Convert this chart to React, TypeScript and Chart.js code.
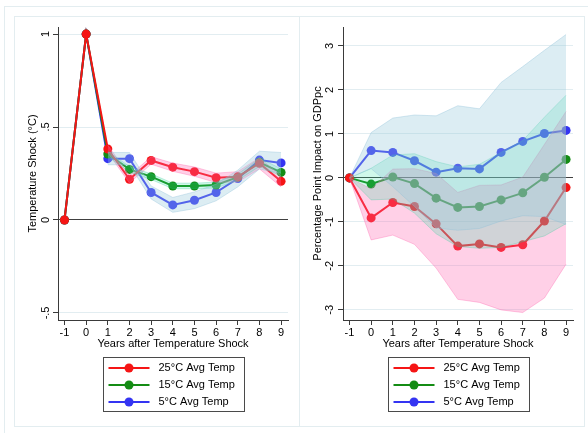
import React, { useEffect, useRef } from "react";
import { Chart, registerables } from "chart.js";

Chart.register(...registerables);

// ---------- data ----------
const years = [-1, 0, 1, 2, 3, 4, 5, 6, 7, 8, 9];
const bandYearsTemp = [1, 2, 3, 4, 5, 6, 7, 8, 9];
const seriesNames = ["25°C Avg Temp", "15°C Avg Temp", "5°C Avg Temp"];

// Left panel: temperature shock (°C)
const tempHot = [0, 1, 0.382, 0.219, 0.32, 0.284, 0.26, 0.227, 0.232, 0.305, 0.208];
const tempMid = [0, 1, 0.355, 0.272, 0.233, 0.183, 0.183, 0.188, 0.23, 0.31, 0.256];
const tempCold = [0, 1, 0.33, 0.33, 0.148, 0.081, 0.106, 0.148, 0.223, 0.322, 0.307];
const tempHotHi = [0.402, 0.239, 0.34, 0.306, 0.285, 0.252, 0.26, 0.335, 0.238];
const tempHotLo = [0.362, 0.199, 0.3, 0.262, 0.235, 0.202, 0.204, 0.275, 0.178];
const tempMidHi = [0.37, 0.287, 0.248, 0.198, 0.198, 0.204, 0.247, 0.332, 0.276];
const tempMidLo = [0.34, 0.257, 0.218, 0.168, 0.168, 0.172, 0.213, 0.288, 0.236];
const tempColdHi = [0.363, 0.363, 0.183, 0.121, 0.151, 0.193, 0.268, 0.37, 0.363];
const tempColdLo = [0.297, 0.297, 0.113, 0.041, 0.061, 0.103, 0.178, 0.274, 0.251];

// Right panel: percentage point impact on GDPpc
const gdpHot = [0, -0.91, -0.56, -0.65, -1.045, -1.55, -1.5, -1.58, -1.52, -0.98, -0.22];
const gdpMid = [0, -0.14, 0.02, -0.13, -0.46, -0.67, -0.65, -0.5, -0.34, 0.015, 0.42];
const gdpCold = [0, 0.62, 0.58, 0.39, 0.13, 0.22, 0.205, 0.58, 0.83, 1.01, 1.08];
const gdpHotHi = [0, -0.25, 0.2, 0.21, 0.1, -0.33, -0.17, -0.16, 0.02, 0.76, 1.51];
const gdpHotLo = [0, -1.41, -1.3, -1.51, -2.05, -2.76, -2.83, -3.0, -3.06, -2.73, -1.96];
const gdpMidHi = [0, 0.22, 0.52, 0.55, 0.37, 0.25, 0.31, 0.58, 0.85, 1.38, 1.88];
const gdpMidLo = [0, -0.5, -0.48, -0.8, -1.27, -1.56, -1.6, -1.58, -1.45, -1.32, -1.04];
const gdpColdHi = [0, 1.03, 1.36, 1.43, 1.41, 1.64, 1.57, 2.17, 2.53, 2.9, 3.26];
const gdpColdLo = [0, 0.21, -0.2, -0.65, -1.14, -1.19, -1.15, -0.98, -0.86, -0.88, -1.06];

// ticks
const xTickValues = [-1, 0, 1, 2, 3, 4, 5, 6, 7, 8, 9];
const tempTickValues = [-0.5, 0, 0.5, 1];
const tempTickLabels = ["-.5", "0", ".5", "1"];
const gdpTickValues = [-3, -2, -1, 0, 1, 2, 3];
const gdpTickLabels = ["-3", "-2", "-1", "0", "1", "2", "3"];

const xTitle = "Years after Temperature Shock";
const tempTitle = "Temperature Shock (°C)";
const gdpTitle = "Percentage Point Impact on GDPpc";

// ---------- styles ----------
const FONT = '"Liberation Sans", Arial, Helvetica, sans-serif';
const LINE_COLORS = ["#f51515", "#148c14", "#3434f2"];
const BAND_FILLS = ["rgba(255,100,175,0.30)", "rgba(40,225,160,0.22)", "rgba(150,200,220,0.33)"];
const BAND_EDGES = ["rgba(255,100,175,0.45)", "rgba(40,200,150,0.35)", "rgba(140,190,215,0.45)"];
const AXIS = "#3a3a3a";
const GRID = "#e2edf1";

Chart.defaults.font.family = FONT;
Chart.defaults.font.size = 11;
Chart.defaults.color = "#000";

function pts(xs: number[], ys: number[]) {
  return xs.map((x, i) => ({ x, y: ys[i] }));
}

const legendBox = {
  id: "legendBox",
  afterDraw(chart: any, _args: any, opts: any) {
    const { ctx, chartArea } = chart;
    const cx = (chartArea.left + chartArea.right) / 2;
    const w = 141;
    const h = 54;
    const left = Math.round(cx - w / 2) + 0.5;
    const top = Math.round(chartArea.bottom + 37) + 0.5;
    ctx.save();
    ctx.strokeStyle = "#4a4a4a";
    ctx.lineWidth = 1;
    ctx.strokeRect(left, top, w, h);
    (opts.items || []).forEach((it: any, i: number) => {
      const y = top + 10.5 + i * 17;
      ctx.strokeStyle = it.color;
      ctx.lineWidth = 2;
      ctx.beginPath();
      ctx.moveTo(left + 5, y);
      ctx.lineTo(left + 46, y);
      ctx.stroke();
      ctx.fillStyle = it.color;
      ctx.beginPath();
      ctx.arc(left + 25.5, y, 4.5, 0, Math.PI * 2);
      ctx.fill();
      ctx.fillStyle = "#000";
      ctx.font = "11px " + FONT;
      ctx.textAlign = "left";
      ctx.textBaseline = "middle";
      ctx.fillText(it.label, left + 55, y);
    });
    ctx.restore();
  },
};

type PanelProps = {
  lines: number[][];
  bandXs: number[];
  bands: [number[], number[]][];
  yMin: number;
  yMax: number;
  yTicks: number[];
  yLabels: string[];
  yTitle: string;
  yTickPad: number;
};

function buildConfig(p: PanelProps): any {
  const datasets: any[] = [];
  p.lines.forEach((ys, i) => {
    datasets.push({
      type: "line",
      label: seriesNames[i],
      data: pts(years, ys),
      borderColor: LINE_COLORS[i],
      backgroundColor: LINE_COLORS[i],
      pointBackgroundColor: LINE_COLORS[i],
      pointBorderColor: LINE_COLORS[i],
      pointBorderWidth: 0,
      pointRadius: 4.5,
      borderWidth: 2,
      tension: 0,
      fill: false,
      order: 10 + i,
    });
  });
  p.bands.forEach(([lo, hi], i) => {
    const loIndex = datasets.length;
    datasets.push({
      type: "line",
      label: seriesNames[i] + " lower",
      data: pts(p.bandXs, lo),
      borderColor: BAND_EDGES[i],
      borderWidth: 0.8,
      pointRadius: 0,
      tension: 0,
      fill: false,
      order: 5 - i,
    });
    datasets.push({
      type: "line",
      label: seriesNames[i] + " upper",
      data: pts(p.bandXs, hi),
      borderColor: BAND_EDGES[i],
      borderWidth: 0.8,
      pointRadius: 0,
      tension: 0,
      fill: { target: loIndex },
      backgroundColor: BAND_FILLS[i],
      order: 5 - i,
    });
  });

  return {
    type: "line",
    data: { datasets },
    plugins: [legendBox],
    options: {
      animation: false,
      responsive: false,
      maintainAspectRatio: false,
      devicePixelRatio: 1,
      events: [],
      layout: { padding: { left: 0, top: 11, right: 11, bottom: 75 } },
      plugins: {
        legend: { display: false },
        tooltip: { enabled: false },
        legendBox: {
          items: seriesNames.map((label, i) => ({ label, color: LINE_COLORS[i] })),
        },
      },
      scales: {
        x: {
          type: "linear",
          min: -1.3,
          max: 9.32,
          afterBuildTicks: (s: any) => {
            s.ticks = xTickValues.map((v) => ({ value: v }));
          },
          afterFit: (s: any) => {
            s.height = 31;
          },
          ticks: {
            autoSkip: false,
            maxRotation: 0,
            minRotation: 0,
            padding: 1,
            color: "#000",
            font: { size: 11 },
            callback: (v: any) => String(v),
          },
          grid: {
            drawOnChartArea: false,
            drawTicks: true,
            tickLength: 5,
            tickColor: AXIS,
            color: AXIS,
          },
          border: { display: true, color: AXIS, width: 1 },
          title: {
            display: true,
            text: xTitle,
            color: "#000",
            font: { size: 11 },
            padding: { top: 0, bottom: 0 },
          },
        },
        y: {
          type: "linear",
          min: p.yMin,
          max: p.yMax,
          afterBuildTicks: (s: any) => {
            s.ticks = p.yTicks.map((v) => ({ value: v }));
          },
          afterFit: (s: any) => {
            s.width = 44;
          },
          ticks: {
            autoSkip: false,
            minRotation: 90,
            maxRotation: 90,
            crossAlign: "center",
            padding: p.yTickPad,
            color: "#000",
            font: { size: 11 },
            callback: (v: any) => p.yLabels[p.yTicks.indexOf(v)],
          },
          grid: {
            drawOnChartArea: true,
            drawTicks: true,
            tickLength: 5,
            tickColor: AXIS,
            lineWidth: 1,
            color: (c: any) => (c.tick && c.tick.value === 0 ? "#404040" : GRID),
          },
          border: { display: true, color: AXIS, width: 1 },
          title: {
            display: true,
            text: p.yTitle,
            color: "#000",
            font: { size: 11 },
            padding: { top: 12, bottom: 0 },
          },
        },
      },
    },
  };
}

function Panel(props: PanelProps & { left: number; top: number }) {
  const ref = useRef<HTMLCanvasElement | null>(null);
  useEffect(() => {
    if (!ref.current) return;
    const chart = new Chart(ref.current, buildConfig(props));
    return () => chart.destroy();
  }, []);
  return (
    <canvas
      ref={ref}
      width={285}
      height={410}
      style={{ position: "absolute", left: props.left, top: props.top, width: 285, height: 410 }}
    />
  );
}

const FRAME = "#e3edf0";

export default function App() {
  return (
    <div
      style={{
        position: "fixed",
        left: 0,
        top: 0,
        width: 588,
        height: 433,
        overflow: "hidden",
        background: "#fff",
      }}
    >
      <div
        style={{
          position: "absolute",
          left: 4,
          top: 6,
          width: 800,
          height: 800,
          border: `1px solid ${FRAME}`,
          boxSizing: "border-box",
        }}
      />
      <div
        style={{
          position: "absolute",
          left: 14,
          top: 16,
          width: 286,
          height: 411,
          border: `1px solid ${FRAME}`,
          boxSizing: "border-box",
        }}
      />
      <div
        style={{
          position: "absolute",
          left: 299,
          top: 16,
          width: 286,
          height: 411,
          border: `1px solid ${FRAME}`,
          boxSizing: "border-box",
        }}
      />
      <Panel
        left={14}
        top={16}
        lines={[tempHot, tempMid, tempCold]}
        bandXs={bandYearsTemp}
        bands={[
          [tempHotLo, tempHotHi],
          [tempMidLo, tempMidHi],
          [tempColdLo, tempColdHi],
        ]}
        yMin={-0.538}
        yMax={1.038}
        yTicks={tempTickValues}
        yLabels={tempTickLabels}
        yTitle={tempTitle}
        yTickPad={1}
      />
      <Panel
        left={299}
        top={16}
        lines={[gdpHot, gdpMid, gdpCold]}
        bandXs={years}
        bands={[
          [gdpHotLo, gdpHotHi],
          [gdpMidLo, gdpMidHi],
          [gdpColdLo, gdpColdHi],
        ]}
        yMin={-3.23}
        yMax={3.43}
        yTicks={gdpTickValues}
        yLabels={gdpTickLabels}
        yTitle={gdpTitle}
        yTickPad={3}
      />
    </div>
  );
}
